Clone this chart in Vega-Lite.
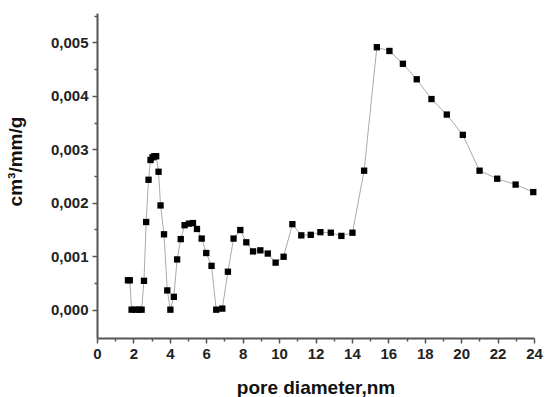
{
  "$schema": "https://vega.github.io/schema/vega-lite/v6.json",
  "autosize": "none",
  "width": 437,
  "height": 325,
  "padding": {"left": 97, "top": 13, "right": 11, "bottom": 59},
  "background": "white",
  "config": {
    "view": {"stroke": null},
    "font": "Liberation Sans",
    "axis": {
      "domainColor": "#555555",
      "domainWidth": 2,
      "tickColor": "#555555",
      "tickWidth": 1.5,
      "grid": false,
      "labelFont": "Liberation Sans",
      "labelFontWeight": "bold",
      "labelFontSize": 15,
      "labelColor": "#222222",
      "titleFont": "Liberation Sans",
      "titleFontWeight": "bold",
      "titleFontSize": 19,
      "titleColor": "#111111"
    }
  },
  "data": {
    "values": [
      {"d": 1.7, "v": 0.00055},
      {"d": 1.8, "v": 0.00055},
      {"d": 1.9, "v": 0},
      {"d": 2.1, "v": 0},
      {"d": 2.3, "v": 0},
      {"d": 2.45, "v": 0},
      {"d": 2.58, "v": 0.00054},
      {"d": 2.7, "v": 0.00164},
      {"d": 2.83, "v": 0.00243},
      {"d": 2.94, "v": 0.0028},
      {"d": 3.05, "v": 0.00285},
      {"d": 3.15, "v": 0.00287},
      {"d": 3.25, "v": 0.00287},
      {"d": 3.38, "v": 0.00258},
      {"d": 3.49, "v": 0.00195},
      {"d": 3.68, "v": 0.00141},
      {"d": 3.86, "v": 0.00036},
      {"d": 4.03, "v": 0},
      {"d": 4.22, "v": 0.00024},
      {"d": 4.4, "v": 0.00094},
      {"d": 4.6, "v": 0.00132},
      {"d": 4.81, "v": 0.00158},
      {"d": 5.05, "v": 0.00161},
      {"d": 5.27, "v": 0.00162},
      {"d": 5.49, "v": 0.00151},
      {"d": 5.75, "v": 0.00133},
      {"d": 6.0, "v": 0.00106},
      {"d": 6.29, "v": 0.00082},
      {"d": 6.55, "v": 0},
      {"d": 6.88, "v": 0.00002},
      {"d": 7.19, "v": 0.00071},
      {"d": 7.5, "v": 0.00133},
      {"d": 7.87, "v": 0.00149},
      {"d": 8.2, "v": 0.00126},
      {"d": 8.57, "v": 0.00109},
      {"d": 8.97, "v": 0.00111},
      {"d": 9.38, "v": 0.00105},
      {"d": 9.81, "v": 0.00088},
      {"d": 10.25, "v": 0.00099},
      {"d": 10.73, "v": 0.0016},
      {"d": 11.22, "v": 0.00139},
      {"d": 11.74, "v": 0.0014},
      {"d": 12.27, "v": 0.00145},
      {"d": 12.84, "v": 0.00144},
      {"d": 13.42, "v": 0.00138},
      {"d": 14.03, "v": 0.00144},
      {"d": 14.67, "v": 0.0026},
      {"d": 15.37, "v": 0.00491},
      {"d": 16.06, "v": 0.00484},
      {"d": 16.8, "v": 0.0046},
      {"d": 17.56, "v": 0.00431},
      {"d": 18.37, "v": 0.00394},
      {"d": 19.21, "v": 0.00365},
      {"d": 20.09, "v": 0.00327},
      {"d": 21.01, "v": 0.0026},
      {"d": 21.98, "v": 0.00245},
      {"d": 22.99, "v": 0.00234},
      {"d": 23.96, "v": 0.0022}
    ]
  },
  "encoding": {
    "x": {
      "field": "d",
      "type": "quantitative",
      "scale": {"domain": [0, 24], "nice": false, "zero": false},
      "axis": {
        "title": "pore diameter,nm",
        "values": [0,1,2,3,4,5,6,7,8,9,10,11,12,13,14,15,16,17,18,19,20,21,22,23,24],
        "labelExpr": "datum.value % 2 != 0 ? '' : datum.value",
        "tickSize": {"condition": {"test": "datum.value % 2 != 0", "value": 3}, "value": 5},
        "labelPadding": 3,
        "labelFlush": false,
        "labelOverlap": false,
        "titleBaseline": "alphabetic",
        "titleY": 55
      }
    },
    "y": {
      "field": "v",
      "type": "quantitative",
      "scale": {"domain": [-0.00053, 0.00555], "nice": false, "zero": false},
      "axis": {
        "title": "cm³/mm/g",
        "values": [0, 0.0005, 0.001, 0.0015, 0.002, 0.0025, 0.003, 0.0035, 0.004, 0.0045, 0.005, 0.0055],
        "labelExpr": "abs(round(datum.value*1000) - datum.value*1000) > 0.1 ? '' : replace(format(datum.value, '.3f'), '.', ',')",
        "tickSize": {"condition": {"test": "abs(round(datum.value*1000) - datum.value*1000) > 0.1", "value": 3}, "value": 5},
        "labelPadding": 4,
        "labelFlush": false,
        "labelOverlap": false,
        "titleX": -72,
        "titleY": 148
      }
    }
  },
  "layer": [
    {
      "mark": {"type": "line", "color": "#aaaaaa", "strokeWidth": 1},
      "encoding": {"order": {"field": "d", "type": "quantitative"}}
    },
    {
      "mark": {"type": "point", "shape": "square", "filled": true, "color": "#000000", "opacity": 1, "size": 40}
    }
  ]
}
